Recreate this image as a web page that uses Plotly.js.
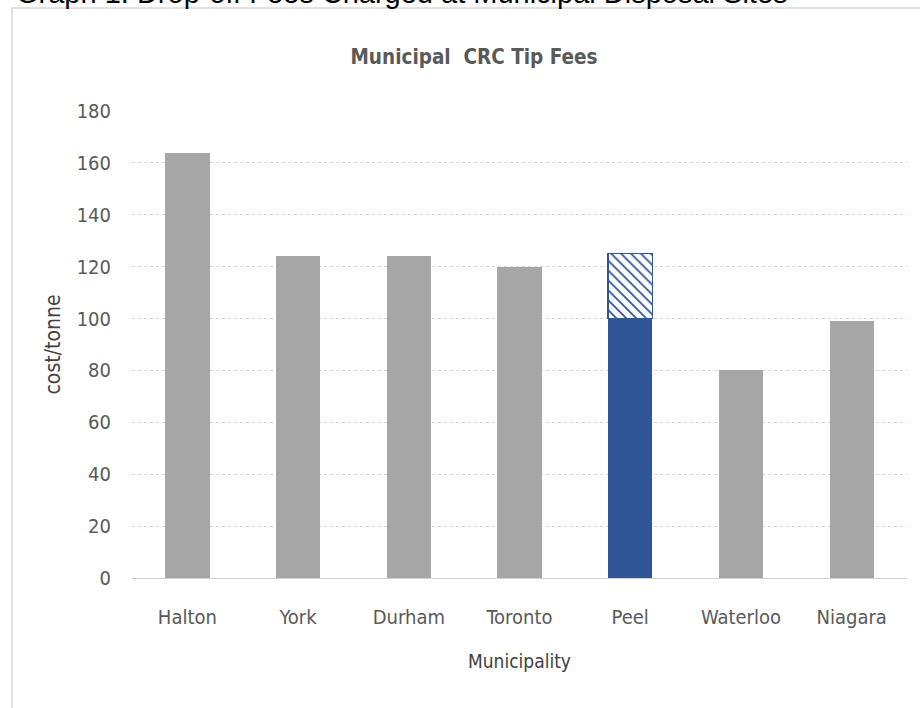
<!DOCTYPE html>
<html>
<head>
<meta charset="utf-8">
<script src="https://cdn.plot.ly/plotly-3.0.1.min.js"></script>
<style>html,body{margin:0;padding:0;background:#fff;}#chart{width:920px;height:708px;}</style>
</head>
<body>
<div id="chart"></div>
<script>
// Data
var municipalities = ["Halton", "York", "Durham", "Toronto", "Peel", "Waterloo", "Niagara"];
var baseFees = [164, 124, 124, 120, 100, 80, 99];
var peelExtra = [null, null, null, null, 25, null, null];
var highlight = "Peel";

var grayFill = "#a6a6a6";
var blue = "#2f5597";
var baseColors = municipalities.map(function (m) { return m === highlight ? blue : grayFill; });

var font = "'DejaVu Sans Condensed', 'Liberation Sans Narrow', 'Open Sans', sans-serif";

var traces = [
  {
    type: "bar",
    x: municipalities,
    y: baseFees,
    marker: { color: baseColors, line: { width: 0 } },
    hoverinfo: "x+y",
    showlegend: false
  },
  {
    type: "bar",
    x: municipalities,
    y: peelExtra,
    marker: {
      color: "#ffffff",
      line: { color: blue, width: 1.5 },
      pattern: { shape: "\\", fgcolor: blue, bgcolor: "#ffffff", size: 7, solidity: 0.25 }
    },
    hoverinfo: "x+y",
    showlegend: false
  }
];

var layout = {
  width: 920,
  height: 708,
  margin: { l: 132, r: 13, t: 111, b: 130 },
  paper_bgcolor: "#ffffff",
  plot_bgcolor: "#ffffff",
  barmode: "stack",
  bargap: 0.6,
  title: {
    text: "<b>Municipal  CRC Tip Fees</b>",
    font: { family: font, size: 20.5, color: "#595959" },
    x: (474 - 132) / 775, xref: "paper", xanchor: "center",
    y: 1 - 57 / 708, yref: "container", yanchor: "middle"
  },
  xaxis: {
    type: "category",
    showgrid: false,
    showline: true,
    linecolor: "#d0d0d0",
    linewidth: 1,
    ticks: "",
    ticklabelstandoff: 21,
    tickfont: { family: font, size: 20, color: "#595959" },
    title: { text: "Municipality", font: { family: font, size: 19, color: "#404040" }, standoff: 26 },
    fixedrange: true
  },
  yaxis: {
    range: [0, 180],
    dtick: 20,
    tick0: 0,
    showgrid: true,
    gridcolor: "#d4d4d4",
    griddash: "dot",
    gridwidth: 1,
    zeroline: false,
    showline: false,
    ticks: "",
    ticklabelstandoff: 20,
    tickfont: { family: font, size: 20, color: "#595959" },
    title: { text: "cost/tonne", font: { family: font, size: 21, color: "#404040" }, standoff: 10 },
    fixedrange: true
  },
  shapes: [
    {
      type: "rect", xref: "paper", yref: "paper",
      x0: (12 - 132) / 775, x1: 1.05,
      y0: (578 - 715) / 467, y1: (578 - 8) / 467,
      line: { color: "#d9d9d9", width: 1.5 },
      fillcolor: "rgba(0,0,0,0)",
      layer: "below"
    }
  ],
  annotations: [
    {
      text: "Graph 1: Drop-off Fees Charged at Municipal Disposal Sites",
      xref: "paper", yref: "paper",
      x: (14 - 132) / 775, y: (578 - 11) / 467,
      xanchor: "left", yanchor: "bottom",
      showarrow: false,
      font: { family: "'Liberation Sans', Arial, sans-serif", size: 29, color: "#000000" }
    }
  ]
};

Plotly.newPlot("chart", traces, layout, { displayModeBar: false, staticPlot: true });
</script>
</body>
</html>
